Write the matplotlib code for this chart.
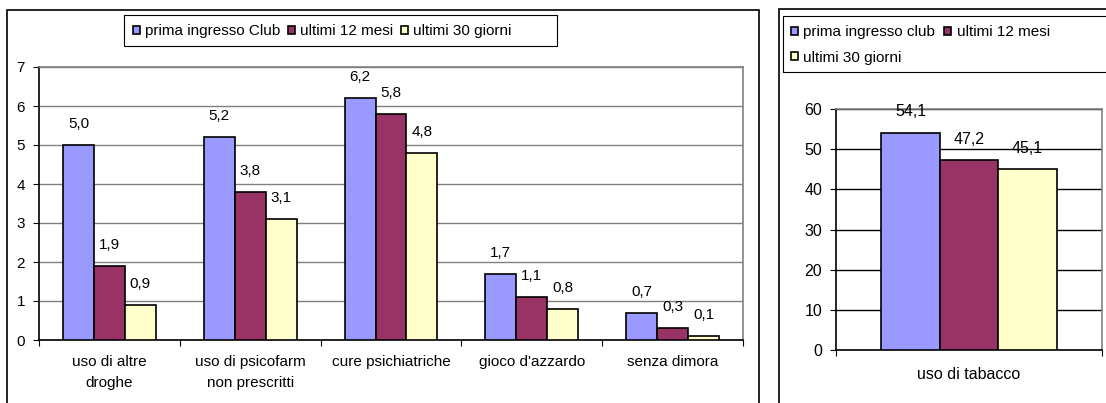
import numpy as np
import matplotlib.pyplot as plt
from matplotlib.patches import Rectangle
from matplotlib.ticker import FixedLocator, NullFormatter

plt.rcParams['font.family'] = ['Liberation Sans', 'DejaVu Sans']

# data, left chart
categories = ["uso di altre\ndroghe", "uso di psicofarm\nnon prescritti",
              "cure psichiatriche", "gioco d'azzardo", "senza dimora"]
prima = [5.0, 5.2, 6.2, 1.7, 0.7]
ultimi12 = [1.9, 3.8, 5.8, 1.1, 0.3]
ultimi30 = [0.9, 3.1, 4.8, 0.8, 0.1]
labels_left = ["prima ingresso Club", "ultimi 12 mesi", "ultimi 30 giorni"]

# data, right chart
cat_right = ["uso di tabacco"]
tab_prima = [54.1]
tab_12 = [47.2]
tab_30 = [45.1]
labels_right = ["prima ingresso club", "ultimi 12 mesi", "ultimi 30 giorni"]

colors = ["#9999FF", "#993366", "#FFFFCC"]
W, H = 1106, 403


def px(x0, y0, x1, y1):
    # pixel box -> figure fraction
    return [x0 / W, 1 - y1 / H, (x1 - x0) / W, (y1 - y0) / H]


def fmt(v):
    return f"{v:.1f}".replace(".", ",")


def box(x0, y0, x1, y1, lw):
    fig.patches.append(Rectangle((x0 / W, 1 - y1 / H), (x1 - x0) / W, (y1 - y0) / H,
                                 transform=fig.transFigure, fill=False,
                                 edgecolor="black", lw=lw))


fig = plt.figure(figsize=(W / 100, H / 100), dpi=100)

# panel frames (run past the bottom/right edge)
box(7, 10, 759, 450, 1.2)
box(779, 9, 1300, 450, 1.2)


def draw(ax, cats, series, ymax, step, gridcol, fs, xpad):
    n = len(cats)
    x = np.arange(n)
    bw = 0.22
    bars = []
    for i, vals in enumerate(series):
        b = ax.bar(x + (i - 1) * bw, vals, bw, color=colors[i],
                   edgecolor="black", lw=1.2, zorder=3)
        bars.append(b)
        for xi, v in zip(x + (i - 1) * bw, vals):
            ax.annotate(fmt(v), (xi, v), xytext=(0, 15), textcoords="offset points",
                        ha="center", va="center", fontsize=fs)
    ax.set_xlim(-0.5, n - 0.5)
    ax.set_ylim(0, ymax)
    ax.set_yticks(np.arange(0, ymax + 0.01, step))
    ax.yaxis.grid(True, color=gridcol, lw=1, zorder=0)
    ax.set_axisbelow(True)
    ax.xaxis.set_major_locator(FixedLocator(np.arange(n + 1) - 0.5))
    ax.xaxis.set_major_formatter(NullFormatter())
    ax.set_xticks(x, minor=True)
    ax.set_xticklabels(cats, minor=True, fontsize=fs, linespacing=1.65)
    ax.tick_params(axis="x", which="minor", length=0, pad=xpad)
    ax.tick_params(axis="x", which="major", length=4, color="black")
    ax.tick_params(axis="y", length=4, labelsize=fs, pad=6)
    for s in ["top", "right"]:
        ax.spines[s].set_color("#808080")
        ax.spines[s].set_linewidth(1.2)
    for s in ["left", "bottom"]:
        ax.spines[s].set_linewidth(1.2)
    return bars


axl = fig.add_axes(px(39, 67, 743, 340))
bl = draw(axl, categories, [prima, ultimi12, ultimi30], 7, 1, "#808080", 11, 11)

box(124, 15, 557, 46, 0.8)
fig.legend([b[0] for b in bl], labels_left, loc="upper left",
           bbox_to_anchor=(130 / W, 1 - 21 / H), borderaxespad=0, ncol=3,
           fontsize=11, frameon=False, handlelength=0.45, handleheight=0.45,
           handletextpad=0.35, columnspacing=0.5, borderpad=0.2)

axr = fig.add_axes(px(836, 109, 1102, 350))
br = draw(axr, cat_right, [tab_prima, tab_12, tab_30], 60, 10, "black", 11.5, 12)

# right legend box, running past the figure edge
box(783, 16, 1300, 72, 0.8)
order = [0, 2, 1]
fig.legend([br[i][0] for i in order], [labels_right[i] for i in order],
           loc="upper left", bbox_to_anchor=(788 / W, 1 - 22 / H), borderaxespad=0,
           ncol=2, fontsize=11, frameon=False, handlelength=0.45, handleheight=0.45,
           handletextpad=0.35, columnspacing=0.6, borderpad=0.2, labelspacing=0.75)

fig.savefig("out.png", dpi=100)
